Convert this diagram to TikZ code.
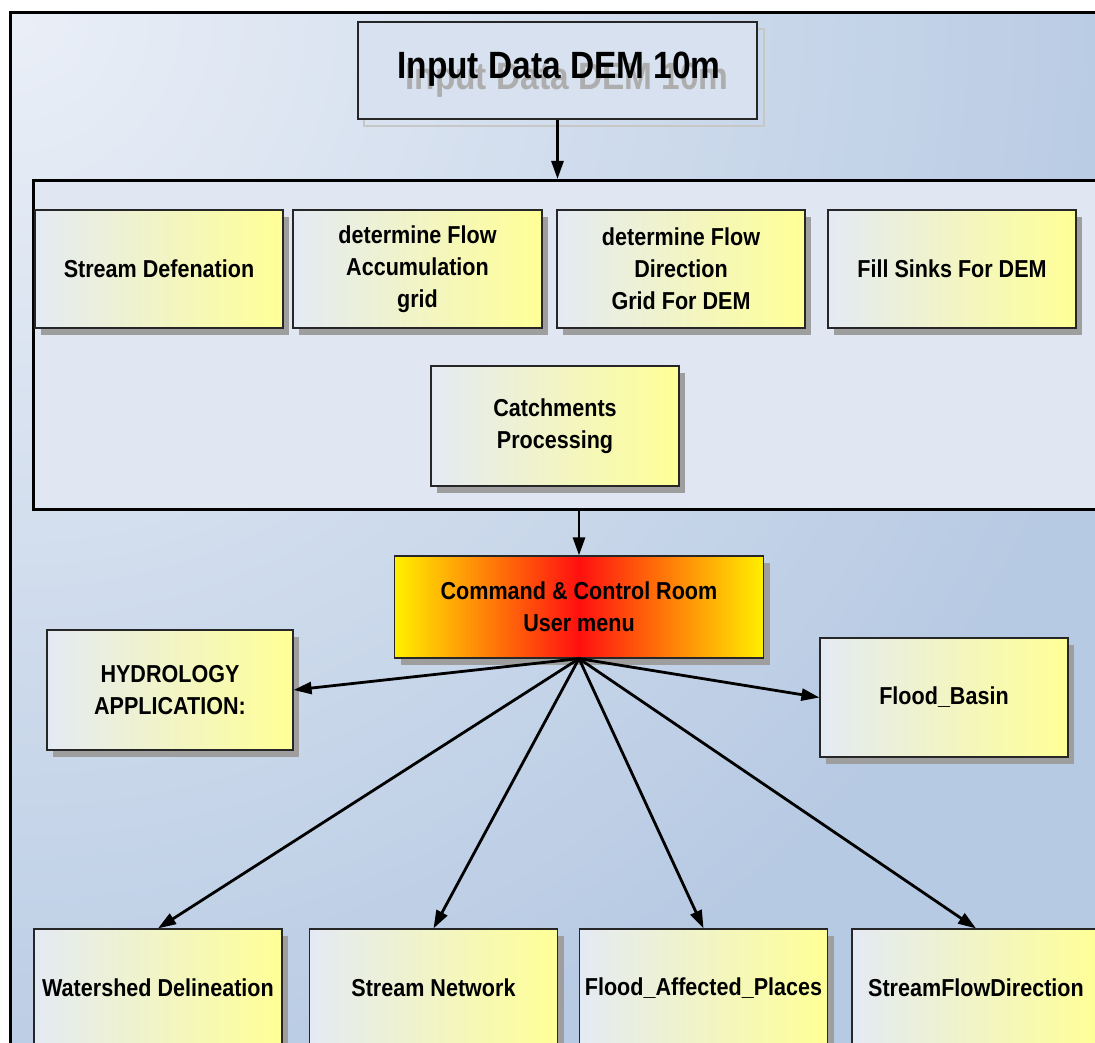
\documentclass[tikz,border=0pt]{standalone}
\usepackage{fontspec}
\setmainfont{Liberation Sans}
\newfontfamily\condfont[FakeStretch=0.88]{Liberation Sans}
\usetikzlibrary{arrows.meta,shadows}
\definecolor{bgA}{HTML}{EAEFF7}
\definecolor{bgB}{HTML}{B7CAE3}
\definecolor{contfill}{HTML}{E0E7F2}
\definecolor{inpfill}{HTML}{D8E1EF}
\definecolor{boxL}{HTML}{E4EAF4}
\definecolor{boxR}{HTML}{FFFF96}
\definecolor{cmdY}{HTML}{FFF000}
\definecolor{cmdR}{HTML}{FF1010}
\begin{document}
\begin{tikzpicture}[x=1pt,y=-1pt,
  ybox/.style={draw=black!85, line width=1.2pt, left color=boxL, right color=boxR,
    minimum width=248pt, minimum height=118pt, align=center, inner sep=0pt,
    font=\condfont\fontsize{24.5}{32}\selectfont\bfseries,
    drop shadow={shadow xshift=6pt, shadow yshift=-7pt, fill=black!38, opacity=1}},
  conn/.style={line width=2.8pt, -{Triangle[length=18pt,width=12pt]}},
]
\useasboundingbox (0,0) rectangle (1095,1043);
\clip (0,0) rectangle (1095,1043);
\fill[white] (0,0) rectangle (1095,1043);
% background of the outer frame
\begin{scope}
  \clip (10,13) rectangle (1120,1080);
  \fill[bgB] (10,13) rectangle (1120,1080);
  \shade[inner color=bgA, outer color=bgB] (10,13) circle (1150);
\end{scope}
\draw[line width=3pt] (10,1080) -- (10,13) -- (1120,13);

% input box
\draw[black!22, line width=1.5pt] (364,29) rectangle (764,126);
\node[draw=black!85, line width=1.2pt, fill=inpfill, minimum width=399pt, minimum height=97pt, inner sep=0pt]
  (inp) at (557.5,70.5) {};
\node[text=black!32, font=\condfont\fontsize{38}{44}\selectfont\bfseries] (inpsh) at (567,80) {Input Data DEM 10m};
\node[font=\condfont\fontsize{38}{44}\selectfont\bfseries] (inptxt) at (559,69) {Input Data DEM 10m};

% container
\node[draw=black, line width=3pt, fill=contfill, minimum width=1100pt, minimum height=329pt,
  anchor=north west, inner sep=0pt] (cont) at (32,179) {};

\node[ybox] (sd) at (159,269) {Stream Defenation};
\node[ybox, minimum width=249pt] (fa) at (417.5,269) {determine Flow\\Accumulation\\grid};
\node[ybox] (fd) at (681,269) {determine Flow\\Direction\\Grid For DEM};
\node[ybox] (fs) at (952,269) {Fill Sinks For DEM};
\node[ybox, minimum height=120pt] (cp) at (555,426) {Catchments\\Processing};

% command box
\node[draw=black!85, line width=1.2pt, left color=cmdY, right color=cmdY, middle color=cmdR,
  minimum width=369pt, minimum height=102pt, align=center, inner sep=0pt,
  font=\condfont\fontsize{24.5}{32}\selectfont\bfseries,
  drop shadow={shadow xshift=6pt, shadow yshift=-7pt, fill=black!38, opacity=1}]
  (cmd) at (579,607) {Command \& Control Room\\User menu};

\node[ybox, minimum width=246pt, minimum height=120pt] (hyd) at (170,690) {HYDROLOGY\\APPLICATION:};
\node[ybox, minimum height=119pt] (fb) at (944,697.5) {Flood\_Basin};

\node[ybox] (ws) at (158,988) {Watershed Delineation};
\node[ybox] (sn) at (433.5,988) {Stream Network};
\node[ybox] (fap) at (703.5,988) {Flood\_Affected\_Places};
\node[ybox] (sfd) at (976,988) {StreamFlowDirection};

% connectors
\draw[conn] (inp.south) -- (inp.south |- cont.north);
\draw[conn] (cmd.north |- cont.south) -- (cmd.north);
\draw[conn] (cmd.south) -- (hyd.east);
\draw[conn] (cmd.south) -- (fb.west);
\draw[conn] (cmd.south) -- (ws.north);
\draw[conn] (cmd.south) -- (sn.north);
\draw[conn] (cmd.south) -- (fap.north);
\draw[conn] (cmd.south) -- (sfd.north);
\end{tikzpicture}
\end{document}
